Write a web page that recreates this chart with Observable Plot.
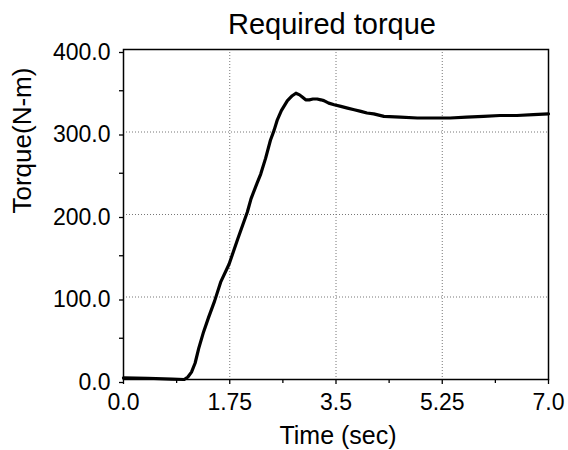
<!DOCTYPE html>
<html>
<head>
<meta charset="utf-8">
<script src="https://cdn.jsdelivr.net/npm/d3@7"></script>
<script src="https://cdn.jsdelivr.net/npm/@observablehq/plot@0.6"></script>
<style>
  html, body { margin: 0; padding: 0; background: #fff; }
  #chart svg { display: block; }
</style>
</head>
<body>
<div id="chart"></div>
<script>
const title = "Required torque";
const xLabel = "Time (sec)";
const yLabel = "Torque(N-m)";

const time = [0, 0.4, 0.8, 1.0, 1.06, 1.12, 1.18, 1.24, 1.32, 1.40, 1.50, 1.60, 1.74, 1.88, 2.04, 2.10, 2.20, 2.26, 2.34, 2.42, 2.48, 2.53, 2.60, 2.70, 2.78, 2.84, 2.90, 2.95, 3.00, 3.06, 3.12, 3.19, 3.25, 3.30, 3.38, 3.47, 3.58, 3.69, 3.80, 3.91, 4.01, 4.12, 4.29, 4.56, 4.84, 5.10, 5.38, 5.65, 5.93, 6.20, 6.48, 6.75, 7.0];
const torque = [2, 1.5, 0.5, 0, 3, 9, 20, 38, 58, 75, 95, 118, 140, 170, 203, 219, 238, 249, 268, 290, 302, 314, 326, 338, 344, 347, 345, 342, 339, 339, 340, 340, 339, 338, 335, 333, 331, 329, 327, 325, 323, 322, 319, 318, 317, 317, 317, 318, 319, 320, 320, 321, 322];

const xTicks = [0, 1.75, 3.5, 5.25, 7];
const xTickLabels = ["0.0", "1.75", "3.5", "5.25", "7.0"];
const xMinor = [0.875, 2.625, 4.375, 6.125];
const yTicks = [0, 100, 200, 300, 400];
const yTickLabels = ["0.0", "100.0", "200.0", "300.0", "400.0"];
const yMinor = [50, 150, 250, 350];

const data = time.map((t, i) => ({t, v: torque[i]}));
const font = "'Liberation Sans', Arial, sans-serif";

const chart = Plot.plot({
  width: 568,
  height: 450,
  marginLeft: 123,
  marginRight: 20,
  marginTop: 49,
  marginBottom: 71,
  style: {fontFamily: font, fontSize: "23px", color: "#000", background: "#fff"},
  x: {domain: [0, 7]},
  y: {domain: [0, 400]},
  marks: [
    Plot.gridX(xTicks.slice(1, -1), {stroke: "#777", strokeOpacity: 1, strokeDasharray: "1,2"}),
    Plot.gridY(yTicks.slice(1, -1), {stroke: "#777", strokeOpacity: 1, strokeDasharray: "1,2"}),
    Plot.axisX(xMinor, {tickSize: 4, text: null, label: null, strokeWidth: 1.3}),
    Plot.axisX(xTicks, {tickSize: 5, tickPadding: 9, tickFormat: (d, i) => xTickLabels[i], label: null, fontSize: 23, strokeWidth: 1.3}),
    Plot.axisY(yMinor, {tickSize: 4, text: null, label: null, strokeWidth: 1.3}),
    Plot.axisY(yTicks, {tickSize: 4, tickPadding: 9, tickFormat: (d, i) => yTickLabels[i], label: null, fontSize: 23, dy: 3, strokeWidth: 1.3}),
    Plot.frame({stroke: "#000", strokeWidth: 1.5}),
    Plot.line(data, {x: "t", y: "v", stroke: "#000", strokeWidth: 3.2, strokeLinejoin: "round"}),
    Plot.text([title], {frameAnchor: "top", lineAnchor: "middle", dx: -4, dy: -25, fontSize: 29, fill: "#000"}),
    Plot.text([xLabel], {frameAnchor: "bottom", lineAnchor: "middle", dx: 2, dy: 56, fontSize: 25, fill: "#000"}),
    Plot.text([yLabel], {frameAnchor: "left", lineAnchor: "middle", rotate: -90, dx: -101, dy: -1, fontSize: 26, fill: "#000"})
  ]
});
document.getElementById("chart").appendChild(chart);
</script>
</body>
</html>
